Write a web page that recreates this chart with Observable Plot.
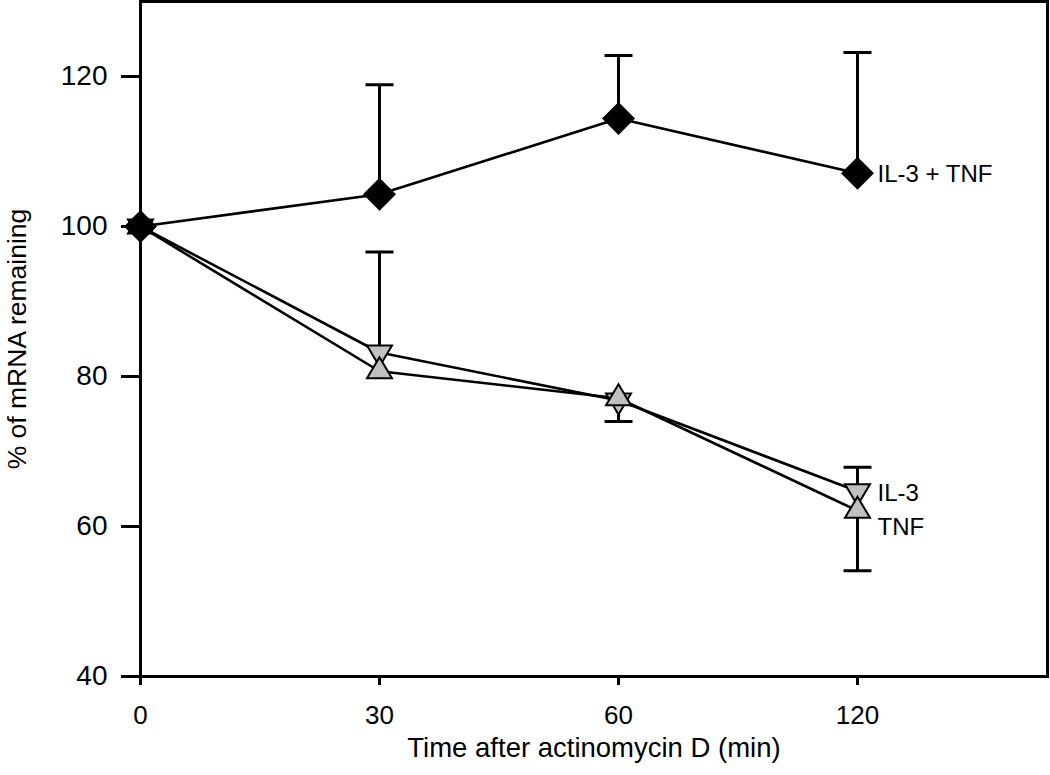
<!DOCTYPE html>
<html>
<head>
<meta charset="utf-8">
<script src="https://cdn.jsdelivr.net/npm/d3@7"></script>
<script src="https://cdn.jsdelivr.net/npm/@observablehq/plot@0.6"></script>
<style>
  html, body { margin: 0; padding: 0; background: #fff; }
  #chart svg { display: block; }
</style>
</head>
<body>
<div id="chart"></div>
<script>
// ---- data ----
const timeLabels = ["0", "30", "60", "120"];   // x tick labels (min)
const timeIndex  = [0, 1, 2, 3];               // evenly spaced positions

const seriesNames = ["IL-3 + TNF", "IL-3", "TNF"];

const il3tnf        = [100, 104.3, 114.4, 107.1];
const il3tnfErrHigh = [null, 118.9, 122.8, 123.2];

const il3        = [100, 83.2, 76.8, 64.7];
const il3ErrHigh = [null, 96.6, null, 67.9];

const tnf       = [100, 80.7, 77.1, 62.1];
const tnfErrLow = [null, null, 74.0, 54.1];

const yTicks = [40, 60, 80, 100, 120];

// ---- tables built from the arrays ----
const pts = (vals) => timeIndex.map((t, i) => ({t, v: vals[i]}));
const errs = (vals, errVals) => timeIndex
  .map((t, i) => ({t, v: vals[i], e: errVals[i]}))
  .filter(d => d.e != null);

const dA = pts(il3tnf),  eA = errs(il3tnf, il3tnfErrHigh);
const dB = pts(il3),     eB = errs(il3, il3ErrHigh);
const dC = pts(tnf),     eC = errs(tnf, tnfErrLow);

// ---- marker shapes (radius = dot r) ----
const diamondSym = {draw(ctx, size) {
  const r = Math.sqrt(size / Math.PI);
  ctx.moveTo(0, -r); ctx.lineTo(r, 0); ctx.lineTo(0, r); ctx.lineTo(-r, 0); ctx.closePath();
}};
const triUpSym = {draw(ctx, size) {
  const r = Math.sqrt(size / Math.PI); const h = r * 1.68;
  ctx.moveTo(0, -h * 2 / 3); ctx.lineTo(r, h / 3); ctx.lineTo(-r, h / 3); ctx.closePath();
}};
const triDownSym = {draw(ctx, size) {
  const r = Math.sqrt(size / Math.PI); const h = r * 1.68;
  ctx.moveTo(0, h * 2 / 3); ctx.lineTo(r, -h / 3); ctx.lineTo(-r, -h / 3); ctx.closePath();
}};
const capSym = {draw(ctx, size) {
  const r = Math.sqrt(size / Math.PI);
  ctx.moveTo(-r, 0); ctx.lineTo(r, 0);
}};

const last = timeIndex.length - 1;
const grey = "#c0c0c0";
const font = "'Liberation Sans', Arial, sans-serif";

const chart = Plot.plot({
  width: 1050,
  height: 775,
  marginLeft: 140,
  marginRight: 3,
  marginTop: 1,
  marginBottom: 99,
  style: {fontFamily: font, color: "#000", background: "#fff"},
  x: {domain: [0, 3.795], axis: null},
  y: {domain: [40, 130], axis: null},
  marks: [
    Plot.frame({stroke: "#000", strokeWidth: 3}),
    Plot.axisY({ticks: yTicks, tickSize: 19, tickPadding: 14, strokeWidth: 3,
      fontSize: 28, label: null}),
    Plot.axisX({ticks: timeIndex, tickFormat: i => timeLabels[i], tickSize: 9,
      tickPadding: 20, strokeWidth: 3, fontSize: 26, label: null}),
    // axis titles
    Plot.text(["% of mRNA remaining"], {frameAnchor: "left", dx: -123, rotate: -90,
      text: d => d, fontSize: 26.5, textAnchor: "middle", lineAnchor: "middle", fill: "#000"}),
    Plot.text(["Time after actinomycin D (min)"], {frameAnchor: "bottom", dy: 72,
      text: d => d, fontSize: 27.5, textAnchor: "middle", lineAnchor: "middle", fill: "#000"}),

    // IL-3 (down triangles) and TNF (up triangles)
    Plot.ruleX(eB, {x: "t", y1: "v", y2: "e", stroke: "#000", strokeWidth: 3}),
    Plot.dot(eB, {x: "t", y: "e", symbol: capSym, r: 14, fill: "none", stroke: "#000", strokeWidth: 3}),
    Plot.ruleX(eC, {x: "t", y1: "v", y2: "e", stroke: "#000", strokeWidth: 3}),
    Plot.dot(eC, {x: "t", y: "e", symbol: capSym, r: 14, fill: "none", stroke: "#000", strokeWidth: 3}),
    Plot.line(dB, {x: "t", y: "v", stroke: "#000", strokeWidth: 2.6}),
    Plot.line(dC, {x: "t", y: "v", stroke: "#000", strokeWidth: 2.6}),
    Plot.dot(dB, {x: "t", y: "v", symbol: triDownSym, r: 12.5, fill: grey, stroke: "#000", strokeWidth: 2}),
    Plot.dot(dC, {x: "t", y: "v", symbol: triUpSym, r: 12.5, fill: grey, stroke: "#000", strokeWidth: 2}),

    // IL-3 + TNF (diamonds)
    Plot.ruleX(eA, {x: "t", y1: "v", y2: "e", stroke: "#000", strokeWidth: 3}),
    Plot.dot(eA, {x: "t", y: "e", symbol: capSym, r: 14, fill: "none", stroke: "#000", strokeWidth: 3}),
    Plot.line(dA, {x: "t", y: "v", stroke: "#000", strokeWidth: 2.6}),
    Plot.dot(dA, {x: "t", y: "v", symbol: diamondSym, r: 16.5, fill: "#000", stroke: "none"}),

    // series labels
    Plot.text([{t: timeIndex[last], v: il3tnf[last], s: seriesNames[0]}],
      {x: "t", y: "v", text: "s", dx: 20, dy: 1, textAnchor: "start", fontSize: 24, fill: "#000"}),
    Plot.text([{t: timeIndex[last], v: il3[last], s: seriesNames[1]}],
      {x: "t", y: "v", text: "s", dx: 20, dy: 2, textAnchor: "start", fontSize: 24, fill: "#000"}),
    Plot.text([{t: timeIndex[last], v: tnf[last], s: seriesNames[2]}],
      {x: "t", y: "v", text: "s", dx: 20, dy: 17, textAnchor: "start", fontSize: 24, fill: "#000"})
  ]
});
document.getElementById("chart").appendChild(chart);
</script>
</body>
</html>
